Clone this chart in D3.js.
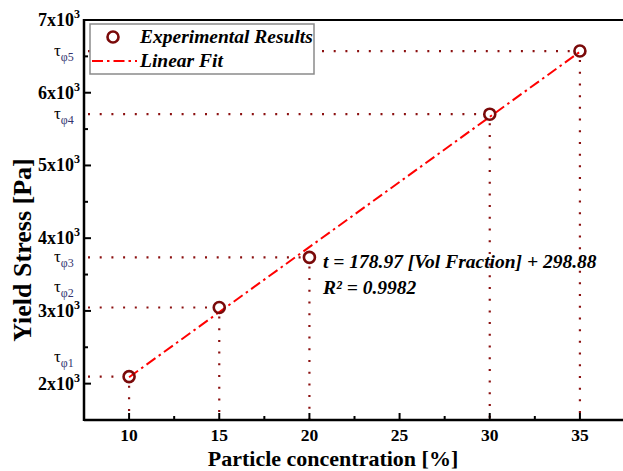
<!DOCTYPE html>
<html>
<head>
<meta charset="utf-8">
<script src="https://cdn.jsdelivr.net/npm/d3@7"></script>
<style>
  body { margin: 0; background: #fff; }
  svg { display: block; font-family: "Liberation Serif", "DejaVu Serif", serif; }
</style>
</head>
<body>
<svg id="chart" width="623" height="471"></svg>
<script>
// data
var concentration = [10, 15, 20, 30, 35];
var yieldStress = [2096, 3047, 3736, 5705, 6573];
var tauIndex = ["1", "2", "3", "4", "5"];
var fitSlope = 178.97, fitIntercept = 298.88;
var xTicks = [10, 15, 20, 25, 30, 35];
var xMinor = [12.5, 17.5, 22.5, 27.5, 32.5];
var yTicks = [2000, 3000, 4000, 5000, 6000, 7000];
var yMinor = [2500, 3500, 4500, 5500, 6500];

var draw = {

    svg: d3.select("#chart"),

    index: function () {
        var m = {left: 84, right: 625, top: 20, bottom: 420};

        var x = d3.scaleLinear().domain([7.5, 37.5]).range([m.left, m.right]);
        var y = d3.scaleLinear().domain([1500, 7000]).range([m.bottom, m.top]);

        draw.guides(x, y, m);
        draw.fit(x, y);
        draw.points(x, y);
        draw.axes(x, y, m);
        draw.labels(x, y, m);
        draw.legend();
    },

    guides: function (x, y, m) {
        var g = draw.svg.append("g")
            .attr("stroke", "#8b1010")
            .attr("stroke-width", 2.2)
            .attr("stroke-dasharray", "2,9.7")
            .attr("fill", "none");
        concentration.forEach(function (c, i) {
            // horizontal from axis to point
            g.append("line")
                .attr("x1", m.left + 4).attr("x2", x(c) - 7)
                .attr("y1", y(yieldStress[i])).attr("y2", y(yieldStress[i]));
            // vertical from point down to axis
            g.append("line")
                .attr("x1", x(c)).attr("x2", x(c))
                .attr("y1", y(yieldStress[i]) + 9).attr("y2", m.bottom);
        });
    },

    fit: function (x, y) {
        var ends = [d3.min(concentration), d3.max(concentration)];
        var line = d3.line()
            .x(function (d) { return x(d); })
            .y(function (d) { return y(fitSlope * d + fitIntercept); });
        draw.svg.append("path")
            .datum(ends)
            .attr("d", line)
            .attr("fill", "none")
            .attr("stroke", "#ff0000")
            .attr("stroke-width", 2)
            .attr("stroke-dasharray", "11,4,2.5,4");
    },

    points: function (x, y) {
        draw.svg.append("g").selectAll("circle")
            .data(concentration)
            .enter().append("circle")
            .attr("cx", function (d) { return x(d); })
            .attr("cy", function (d, i) { return y(yieldStress[i]); })
            .attr("r", 5.5)
            .attr("fill", "none")
            .attr("stroke", "#7a0a0a")
            .attr("stroke-width", 2.6);
    },

    axes: function (x, y, m) {
        var ax = draw.svg.append("g").attr("stroke", "#000");

        // frame: left, bottom, top
        ax.append("line").attr("x1", m.left).attr("x2", m.left)
            .attr("y1", m.top - 1).attr("y2", m.bottom + 1).attr("stroke-width", 2.5);
        ax.append("line").attr("x1", m.left).attr("x2", m.right)
            .attr("y1", m.bottom).attr("y2", m.bottom).attr("stroke-width", 2.5);
        ax.append("line").attr("x1", m.left).attr("x2", m.right)
            .attr("y1", m.top).attr("y2", m.top).attr("stroke-width", 2);

        // inward ticks
        xTicks.forEach(function (t) {
            ax.append("line").attr("x1", x(t)).attr("x2", x(t))
                .attr("y1", m.bottom).attr("y2", m.bottom - 7).attr("stroke-width", 2);
        });
        xMinor.forEach(function (t) {
            ax.append("line").attr("x1", x(t)).attr("x2", x(t))
                .attr("y1", m.bottom).attr("y2", m.bottom - 4).attr("stroke-width", 2);
        });
        yTicks.forEach(function (t) {
            ax.append("line").attr("x1", m.left).attr("x2", m.left + 7)
                .attr("y1", y(t)).attr("y2", y(t)).attr("stroke-width", 2);
        });
        yMinor.forEach(function (t) {
            ax.append("line").attr("x1", m.left).attr("x2", m.left + 4)
                .attr("y1", y(t)).attr("y2", y(t)).attr("stroke-width", 2);
        });

        // tick labels
        draw.svg.append("g").selectAll("text")
            .data(xTicks)
            .enter().append("text")
            .attr("x", function (d) { return x(d); })
            .attr("y", 441)
            .attr("text-anchor", "middle")
            .attr("font-size", 17.5)
            .attr("font-weight", "bold")
            .text(function (d) { return d; });

        var yl = draw.svg.append("g").selectAll("text")
            .data(yTicks)
            .enter().append("text")
            .attr("x", 80)
            .attr("y", function (d) { return y(d) + 6; })
            .attr("text-anchor", "end")
            .attr("font-size", 18)
            .attr("font-weight", "bold");
        yl.append("tspan").text(function (d) { return (d / 1000) + "x10"; });
        yl.append("tspan").attr("dy", -8).attr("font-size", 12).text("3");

        // axis titles
        draw.svg.append("text")
            .attr("x", 333).attr("y", 466)
            .attr("text-anchor", "middle")
            .attr("font-size", 22)
            .attr("font-weight", "bold")
            .text("Particle concentration [%]");
        draw.svg.append("text")
            .attr("transform", "translate(31,250) rotate(-90)")
            .attr("text-anchor", "middle")
            .attr("font-size", 26)
            .attr("font-weight", "bold")
            .text("Yield Stress [Pa]");
    },

    labels: function (x, y, m) {
        // tau labels on the y axis, lifted where they meet a tick label
        yieldStress.forEach(function (v, i) {
            var py = y(v);
            var near = d3.min(yTicks, function (t) { return Math.abs(y(t) - py); });
            var base = near < 12 ? py - 15 : py + 5;
            var t = draw.svg.append("text")
                .attr("x", 54).attr("y", base)
                .attr("font-size", 17);
            t.append("tspan").attr("fill", "#000").text("\u03c4");
            t.append("tspan").attr("dy", 5).attr("font-size", 12)
                .attr("fill", "#33336e").text("\u03c6" + tauIndex[i]);
        });

        // fit equation
        var eq = draw.svg.append("g")
            .attr("font-size", 19.5)
            .attr("font-weight", "bold")
            .attr("font-style", "italic");
        eq.append("text").attr("x", 323).attr("y", 268)
            .text("t = " + fitSlope + " [Vol Fraction] + " + fitIntercept);
        eq.append("text").attr("x", 323).attr("y", 294)
            .text("R\u00b2 = 0.9982");
    },

    legend: function () {
        var lg = draw.svg.append("g");
        lg.append("rect")
            .attr("x", 90).attr("y", 24)
            .attr("width", 224).attr("height", 50)
            .attr("fill", "#fff")
            .attr("stroke", "#8a8a8a")
            .attr("stroke-width", 1.5);
        lg.append("circle")
            .attr("cx", 113).attr("cy", 37).attr("r", 5.5)
            .attr("fill", "none").attr("stroke", "#7a0a0a").attr("stroke-width", 2.6);
        lg.append("line")
            .attr("x1", 92).attr("x2", 137).attr("y1", 61).attr("y2", 61)
            .attr("stroke", "#ff0000").attr("stroke-width", 2)
            .attr("stroke-dasharray", "11,4,2.5,4");
        lg.append("text").attr("x", 140).attr("y", 43)
            .attr("font-size", 19.5).attr("font-weight", "bold").attr("font-style", "italic")
            .text("Experimental Results");
        lg.append("text").attr("x", 140).attr("y", 67)
            .attr("font-size", 19.5).attr("font-weight", "bold").attr("font-style", "italic")
            .text("Linear Fit");
    }
};

draw.index();
</script>
</body>
</html>
